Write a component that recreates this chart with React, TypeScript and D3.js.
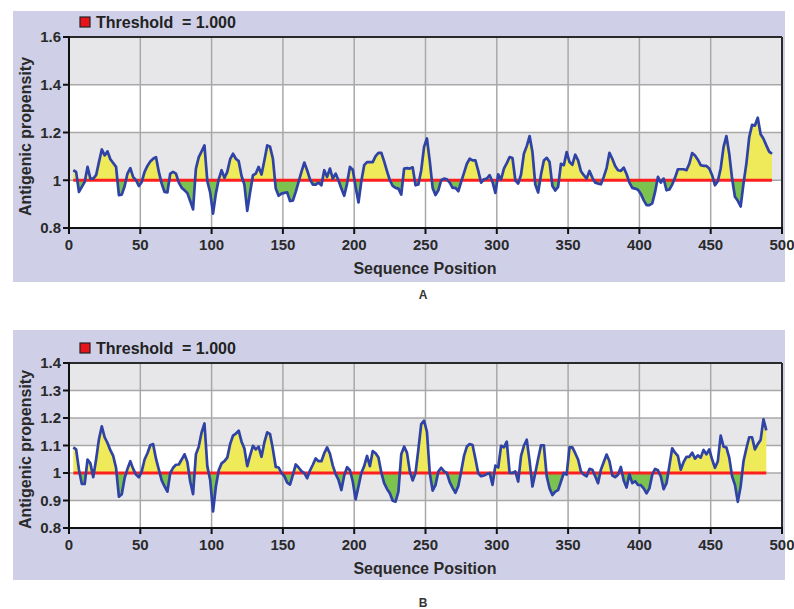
import React from "react";
import * as d3 from "d3";

// antigenic propensity, sampled every 2nd residue
const POS_START = 3;
const POS_STEP = 2;

const valuesA = [
  1.042, 1.035, 0.951, 0.972, 0.993, 1.056, 1.007, 1.007, 1.021, 1.076, 1.129, 1.104, 1.121, 1.088, 1.072, 1.056,
  0.938, 0.94, 0.975, 1.028, 1.051, 1.013, 1.0, 0.976, 0.993, 1.035, 1.06, 1.079, 1.09, 1.097, 1.035, 0.986,
  0.951, 0.949, 1.028, 1.035, 1.028, 0.99, 0.969, 0.958, 0.946, 0.913, 0.878, 1.049, 1.097, 1.121, 1.146, 0.996,
  0.949, 0.86, 0.944, 1.004, 1.042, 1.01, 1.035, 1.088, 1.111, 1.09, 1.08, 1.018, 0.982, 0.872, 0.95, 1.021,
  1.028, 1.056, 1.024, 1.083, 1.146, 1.14, 1.09, 0.965, 0.935, 0.944, 0.947, 0.949, 0.913, 0.915, 0.951, 0.993,
  1.035, 1.074, 1.042, 1.004, 0.982, 0.982, 0.99, 0.979, 1.042, 1.014, 1.049, 1.007, 1.028, 0.999, 0.965, 0.935,
  0.986, 1.056, 1.044, 0.972, 0.907, 0.996, 1.063, 1.076, 1.076, 1.076, 1.101, 1.115, 1.115, 1.079, 1.038, 1.0,
  0.976, 0.968, 0.965, 0.94, 1.049, 1.051, 1.049, 1.054, 0.979, 0.982, 1.042, 1.14, 1.175, 1.08, 0.968, 0.938,
  0.958, 1.0, 1.007, 1.004, 0.99, 0.968, 0.968, 0.954, 0.993, 1.031, 1.069, 1.09, 1.083, 1.083, 1.039, 0.99,
  1.004, 1.007, 1.021, 0.993, 0.947, 1.025, 1.003, 1.049, 1.072, 1.097, 1.093, 1.0, 0.986, 1.024, 1.111, 1.143,
  1.185, 1.118, 0.982, 0.949, 1.024, 1.083, 1.094, 1.076, 0.976, 0.957, 0.972, 1.069, 1.063, 1.118, 1.076, 1.065,
  1.107, 1.083, 1.038, 1.021, 1.007, 1.039, 1.011, 0.99, 0.986, 0.983, 1.014, 1.051, 1.115, 1.09, 1.06, 1.042,
  1.039, 1.053, 1.026, 0.99, 0.968, 0.965, 0.96, 0.943, 0.917, 0.896, 0.896, 0.903, 0.951, 1.014, 0.99, 1.007,
  0.958, 0.961, 0.982, 1.011, 1.046, 1.046, 1.046, 1.042, 1.069, 1.114, 1.104, 1.086, 1.063, 1.06, 1.06, 1.049,
  1.021, 0.979, 0.996, 1.049, 1.139, 1.185, 1.111, 1.007, 0.931, 0.914, 0.89, 0.986, 1.069, 1.18, 1.232, 1.229,
  1.262, 1.193, 1.174, 1.146, 1.12, 1.111,
];

const valuesB = [
  1.093, 1.086, 1.012, 0.96, 0.96, 1.049, 1.035, 0.985, 1.049, 1.123, 1.17, 1.13, 1.109, 1.083, 1.062, 1.019,
  0.914, 0.923, 0.981, 1.015, 1.043, 1.015, 0.994, 0.984, 1.006, 1.049, 1.072, 1.101, 1.105, 1.052, 1.012, 0.973,
  0.951, 0.932, 1.0, 1.019, 1.03, 1.031, 1.049, 1.068, 1.04, 0.969, 0.923, 1.068, 1.096, 1.148, 1.18, 1.025,
  0.975, 0.86, 0.951, 1.01, 1.035, 1.043, 1.056, 1.105, 1.136, 1.143, 1.154, 1.114, 1.089, 1.025, 1.064, 1.099,
  1.086, 1.096, 1.059, 1.111, 1.148, 1.141, 1.086, 1.022, 1.02, 1.0, 0.989, 0.965, 0.958, 0.993, 1.031, 1.02,
  1.007, 1.0, 0.981, 1.009, 1.03, 1.053, 1.043, 1.043, 1.072, 1.093, 1.07, 1.027, 0.996, 0.975, 0.938, 0.991,
  1.021, 1.01, 0.969, 0.904, 0.951, 1.0, 1.025, 1.062, 1.025, 1.08, 1.072, 1.056, 1.002, 0.963, 0.942, 0.926,
  0.899, 0.896, 0.932, 1.068, 1.096, 1.074, 1.006, 0.973, 1.0, 1.086, 1.178, 1.19, 1.15, 1.0, 0.936, 0.956,
  1.005, 1.019, 1.006, 1.0, 0.967, 0.946, 0.928, 0.953, 1.005, 1.062, 1.096, 1.105, 1.102, 1.052, 0.999, 0.988,
  0.991, 0.996, 1.0, 0.957, 1.027, 1.02, 1.099, 1.093, 1.114, 1.0, 1.0, 1.006, 0.969, 1.062, 1.099, 1.121,
  1.043, 0.951, 1.0, 1.052, 1.101, 1.101, 0.988, 0.944, 0.92, 0.932, 0.938, 0.969, 1.0, 0.994, 1.093, 1.093,
  1.072, 1.049, 1.006, 0.994, 0.988, 1.015, 1.012, 0.988, 0.963, 1.012, 1.04, 1.067, 1.043, 0.991, 0.985, 0.994,
  1.022, 0.973, 0.947, 0.996, 0.963, 0.97, 0.957, 0.956, 0.944, 0.926, 0.944, 0.994, 1.015, 1.01, 0.988, 0.941,
  0.963, 1.025, 1.09, 1.074, 1.062, 1.012, 1.04, 1.059, 1.059, 1.074, 1.052, 1.064, 1.056, 1.084, 1.068, 1.086,
  1.049, 1.019, 1.043, 1.136, 1.096, 1.093, 1.056, 0.988, 0.957, 0.895, 0.951, 1.043, 1.089, 1.13, 1.13, 1.086,
  1.105, 1.12, 1.195, 1.155,
];

const THRESHOLD = 1.0;
const xTicks = [0, 50, 100, 150, 200, 250, 300, 350, 400, 450, 500];
const yTicksA = [0.8, 1.0, 1.2, 1.4, 1.6];
const yTicksB = [0.8, 0.9, 1.0, 1.1, 1.2, 1.3, 1.4];

const FONT = "'Liberation Sans', Arial, sans-serif";

type Pt = { pos: number; v: number };

function Panel({ id, values, yTicks, bgTop, bgHeight, top, bottom, caption, captionY }: any) {
  const left = 69;
  const right = 782;
  const data: Pt[] = values.map((v: number, i: number) => ({ pos: POS_START + i * POS_STEP, v }));
  const x = d3.scaleLinear().domain([0, 500]).range([left, right]);
  const y = d3.scaleLinear().domain(d3.extent(yTicks) as [number, number]).range([bottom, top]);
  const yT = y(THRESHOLD);

  const area = d3
    .area<Pt>()
    .x((d) => x(d.pos))
    .y0(yT)
    .y1((d) => y(d.v));
  const line = d3
    .line<Pt>()
    .x((d) => x(d.pos))
    .y((d) => y(d.v));

  const sorted = [...yTicks].sort((a, b) => b - a);
  const bands = sorted.slice(0, -1).map((t, i) => ({ hi: t, lo: sorted[i + 1], gray: i % 2 === 0 }));
  const fmt = (d: number) => `${+d.toFixed(1)}`;
  const first = data[0].pos;
  const last = data[data.length - 1].pos;

  return (
    <g>
      <rect x={13} y={bgTop} width={772} height={bgHeight} fill="#cfd0e7" />
      <defs>
        <clipPath id={`${id}-up`}>
          <rect x={left} y={top} width={right - left} height={yT - top} />
        </clipPath>
        <clipPath id={`${id}-dn`}>
          <rect x={left} y={yT} width={right - left} height={bottom - yT} />
        </clipPath>
      </defs>

      {/* legend */}
      <rect x={80} y={top - 20} width={10} height={10} fill="#e8141c" stroke="#222" strokeWidth={1.2} />
      <text x={96} y={top - 9.5} fontFamily={FONT} fontWeight="bold" fontSize={16} fill="#222">
        Threshold
      </text>
      <text x={182} y={top - 9.5} fontFamily={FONT} fontWeight="bold" fontSize={16} fill="#222">
        = 1.000
      </text>

      {/* plot background bands */}
      {bands.map((b, i) => (
        <rect key={i} x={left} y={y(b.hi)} width={right - left} height={y(b.lo) - y(b.hi)} fill={b.gray ? "#e7e7e9" : "#ffffff"} />
      ))}
      {yTicks.map((t: number) => (
        <line key={"gy" + t} x1={left} x2={right} y1={y(t)} y2={y(t)} stroke="#a8a8a8" strokeWidth={1.5} />
      ))}
      {xTicks.map((t) => (
        <line key={"gx" + t} x1={x(t)} x2={x(t)} y1={top} y2={bottom} stroke="#a8a8a8" strokeWidth={1.5} />
      ))}

      {/* filled areas against threshold */}
      <path d={area(data) || ""} fill="#eeea5a" clipPath={`url(#${id}-up)`} />
      <path d={area(data) || ""} fill="#7cc24e" clipPath={`url(#${id}-dn)`} />
      <line x1={x(first)} x2={x(last)} y1={yT} y2={yT} stroke="#ff1f1f" strokeWidth={3} />
      <path d={line(data) || ""} fill="none" stroke="#2f42a6" strokeWidth={2.7} strokeLinejoin="round" />

      {/* frame */}
      <line x1={left} x2={right} y1={top} y2={top} stroke="#2a2a2a" strokeWidth={2} />
      <line x1={right} x2={right} y1={top} y2={bottom} stroke="#2a2a2a" strokeWidth={2} />
      <line x1={left} x2={left} y1={top - 1} y2={bottom + 1} stroke="#111" strokeWidth={2} />
      <line x1={left - 1} x2={right + 1} y1={bottom} y2={bottom} stroke="#111" strokeWidth={2} />

      {/* y axis */}
      {yTicks.map((t: number) => (
        <g key={"ty" + t}>
          <line x1={left - 6} x2={left} y1={y(t)} y2={y(t)} stroke="#111" strokeWidth={2} />
          <text x={left - 8} y={y(t)} dy="0.35em" textAnchor="end" fontFamily={FONT} fontWeight="bold" fontSize={15} fill="#2a2a2a">
            {fmt(t)}
          </text>
        </g>
      ))}
      {/* x axis */}
      {xTicks.map((t) => (
        <g key={"tx" + t}>
          <line x1={x(t)} x2={x(t)} y1={bottom} y2={bottom + 6} stroke="#111" strokeWidth={2} />
          <text x={x(t)} y={bottom + 17} dy="0.35em" textAnchor="middle" fontFamily={FONT} fontWeight="bold" fontSize={15} fill="#2a2a2a">
            {t}
          </text>
        </g>
      ))}

      <text
        transform={`translate(25, ${(top + bottom) / 2 + 4}) rotate(-90)`}
        dy="0.35em"
        textAnchor="middle"
        fontFamily={FONT}
        fontWeight="bold"
        fontSize={16}
        fill="#2a2a2a"
      >
        Antigenic propensity
      </text>
      <text x={425} y={bottom + 40} dy="0.35em" textAnchor="middle" fontFamily={FONT} fontWeight="bold" fontSize={16} fill="#2a2a2a">
        Sequence Position
      </text>
      <text x={423} y={captionY} dy="0.35em" textAnchor="middle" fontFamily={FONT} fontWeight="bold" fontSize={12} fill="#333">
        {caption}
      </text>
    </g>
  );
}

export default function App() {
  return (
    <svg width={794} height={609} style={{ position: "absolute", left: 0, top: 0, background: "#fff" }}>
      <Panel id="pa" values={valuesA} yTicks={yTicksA} bgTop={11} bgHeight={271} top={37} bottom={228} caption="A" captionY={295} />
      <Panel id="pb" values={valuesB} yTicks={yTicksB} bgTop={330} bgHeight={250} top={363} bottom={528} caption="B" captionY={603} />
    </svg>
  );
}
